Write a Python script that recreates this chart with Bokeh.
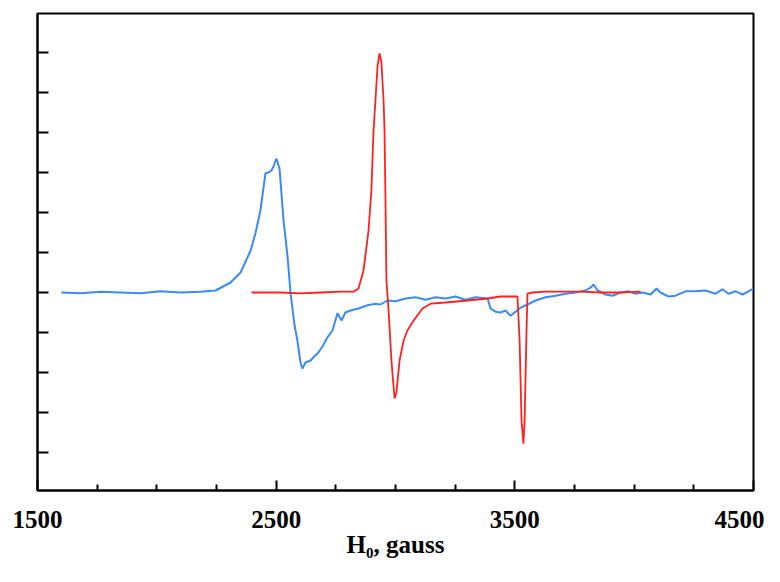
from bokeh.plotting import figure
from bokeh.models import FixedTicker, Range1d
from bokeh.embed import file_html
from bokeh.resources import INLINE

# Blue spectrum (field in gauss, signal in arbitrary units)
blue_field = [1600, 1680, 1764, 1848, 1932, 2015, 2099, 2183, 2246, 2309, 2351, 2393, 2414,
              2434, 2455, 2468, 2480, 2489, 2501, 2514, 2531, 2548, 2560, 2577, 2589, 2602,
              2610, 2623, 2644, 2656, 2677, 2694, 2715, 2736, 2757, 2774, 2790, 2811, 2845,
              2883, 2916, 2937, 2966, 3000, 3042, 3084, 3126, 3168, 3209, 3251, 3293, 3335,
              3386, 3398, 3419, 3440, 3461, 3482, 3503, 3524, 3553, 3587, 3629, 3671, 3713,
              3755, 3796, 3817, 3830, 3847, 3880, 3909, 3943, 3976, 4006, 4035, 4069, 4094,
              4110, 4144, 4173, 4215, 4257, 4299, 4341, 4370, 4395, 4425, 4454, 4479, 4500]
blue_signal = [0.0, -0.02, 0.02, 0.0, -0.02, 0.03, 0.0, 0.02, 0.05, 0.25, 0.5, 1.05, 1.5,
               2.05, 2.98, 3.0, 3.05, 3.15, 3.35, 3.1, 1.8, 0.88, 0.0, -0.82, -1.2, -1.75,
               -1.9, -1.75, -1.7, -1.62, -1.5, -1.35, -1.12, -0.95, -0.52, -0.7, -0.5, -0.45, -0.4,
               -0.32, -0.28, -0.3, -0.2, -0.22, -0.15, -0.12, -0.18, -0.12, -0.15, -0.1, -0.18, -0.12,
               -0.15, -0.4, -0.48, -0.5, -0.45, -0.58, -0.48, -0.38, -0.3, -0.2, -0.12, -0.08, -0.03,
               0.0, 0.05, 0.12, 0.2, 0.05, -0.05, -0.08, 0.0, 0.03, -0.03, 0.0, -0.05, 0.1,
               0.0, -0.1, -0.08, 0.03, 0.03, 0.05, -0.03, 0.08, -0.03, 0.03, -0.05, 0.03, 0.1]

# Red spectrum
red_field = [2397, 2518, 2602, 2686, 2770, 2824, 2845, 2866, 2887, 2899, 2908, 2916, 2925,
             2933, 2941, 2950, 2954, 2958, 2962, 2971, 2983, 2996, 3004, 3017, 3034, 3050,
             3076, 3113, 3147, 3209, 3302, 3386, 3440, 3511, 3520, 3528, 3536, 3541, 3549,
             3553, 3574, 3629, 3692, 3775, 3859, 3943, 4027]
red_signal = [0.0, 0.0, -0.02, 0.0, 0.02, 0.02, 0.1, 0.55, 1.55, 2.55, 4.05, 4.8, 5.68,
              5.98, 5.75, 4.8, 4.05, 2.3, 0.3, -0.45, -1.7, -2.65, -2.5, -1.7, -1.2, -0.95,
              -0.7, -0.4, -0.28, -0.25, -0.2, -0.15, -0.1, -0.1, -1.2, -3.2, -3.78, -3.2, -0.95,
              -0.03, 0.0, 0.02, 0.02, 0.02, 0.0, 0.0, 0.02]

x_major = [1500, 2500, 3500, 4500]
x_minor = [1750, 2000, 2250, 2750, 3000, 3250, 3750, 4000, 4250]
y_ticks = [-4, -3, -2, -1, 0, 1, 2, 3, 4, 5, 6]

p = figure(width=764, height=566, output_backend="svg", toolbar_location=None,
           x_range=Range1d(1500, 4500), y_range=Range1d(-4.95, 6.975),
           min_border_left=37, min_border_right=11, min_border_top=13, min_border_bottom=76)

p.line(blue_field, blue_signal, line_color="#3b8bf2", line_width=2)
p.line(red_field, red_signal, line_color="#ff2020", line_width=1.8)

p.xgrid.visible = False
p.ygrid.visible = False
p.outline_line_color = "black"
p.outline_line_width = 2
p.outline_line_alpha = 1
p.background_fill_color = "white"
p.border_fill_color = "white"

xa = p.xaxis[0]
xa.ticker = FixedTicker(ticks=x_major, minor_ticks=x_minor)
xa.axis_line_width = 2
xa.axis_line_color = "black"
xa.major_tick_in = 10
xa.major_tick_out = 0
xa.minor_tick_in = 6
xa.minor_tick_out = 0
xa.major_tick_line_width = 2
xa.minor_tick_line_width = 2
xa.major_tick_line_color = "black"
xa.minor_tick_line_color = "black"
xa.major_label_text_font = "Liberation Serif"
xa.major_label_text_font_style = "bold"
xa.major_label_text_font_size = "25px"
xa.major_label_text_color = "black"
xa.major_label_standoff = 20
xa.axis_label = "H\u2080, gauss"
xa.axis_label_text_font = "Liberation Serif"
xa.axis_label_text_font_style = "bold"
xa.axis_label_text_font_size = "25px"
xa.axis_label_text_color = "black"
xa.axis_label_standoff = 0

ya = p.yaxis[0]
ya.ticker = FixedTicker(ticks=y_ticks, minor_ticks=[])
ya.axis_line_width = 2
ya.axis_line_color = "black"
ya.major_tick_in = 11
ya.major_tick_out = 0
ya.major_tick_line_width = 2
ya.major_tick_line_color = "black"
ya.minor_tick_line_color = None
ya.major_label_overrides = {t: "" for t in y_ticks}
ya.major_label_standoff = 0

open("out.html", "w").write(file_html(p, INLINE))
